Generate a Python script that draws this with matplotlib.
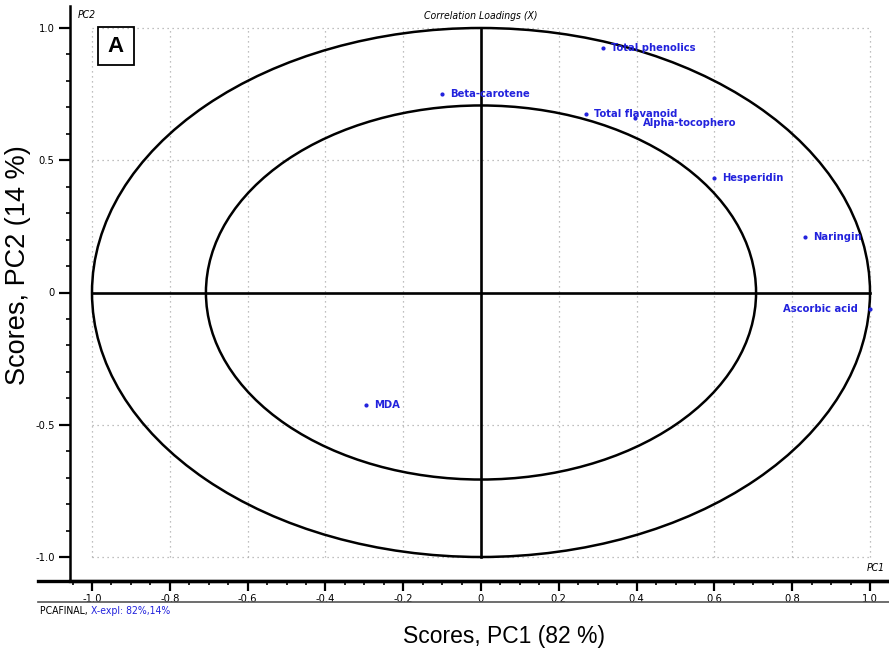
import numpy as np
import matplotlib.pyplot as plt
from matplotlib.patches import Ellipse, Rectangle
from matplotlib.lines import Line2D
from matplotlib.ticker import MultipleLocator, FixedLocator

# loadings
names = ['Total phenolics', 'Beta-carotene', 'Total flavanoid', 'Alpha-tocophero',
         'Hesperidin', 'Naringin', 'Ascorbic acid', 'MDA']
pc1 = [0.314, -0.100, 0.270, 0.395, 0.600, 0.833, 1.000, -0.296]
pc2 = [0.925, 0.751, 0.675, 0.660, 0.434, 0.208, -0.062, -0.426]
# label offsets in pixels (x, y) from each point
label_dx = [8, 8, 8, 8, 8, 8, -12, 8]
label_dy = [0, 0, 0, -5, 0, 0, 0, 0]

xticks = [-1.0, -0.8, -0.6, -0.4, -0.2, 0, 0.2, 0.4, 0.6, 0.8, 1.0]
xticklabels = ['-1.0', '-0.8', '-0.6', '-0.4', '-0.2', '0', '0.2', '0.4', '0.6', '0.8', '1.0']
yticks = [-1.0, -0.5, 0, 0.5, 1.0]
yticklabels = ['-1.0', '-0.5', '0', '0.5', '1.0']

W, H = 889, 657
sans = ['Liberation Sans', 'DejaVu Sans']
blue = '#2222dd'


def nfont(size, weight='normal', style='normal'):
    return dict(family='DejaVu Sans', stretch='condensed', fontsize=size, fontweight=weight, style=style)


fig = plt.figure(figsize=(W / 100, H / 100), dpi=100)
ax = fig.add_axes([70 / W, 1 - 581 / H, (W - 70) / W, (581 - 6) / H])

# pixel -> data mapping taken from the reference ticks
ax.set_xlim((70 - 481) / 389, (W - 481) / 389)
ax.set_ylim((292.5 - 581) / 264.5, (292.5 - 6) / 264.5)

# dotted grid, bounded to [-1, 1]
ax.vlines(xticks, -1, 1, colors='#aaaaaa', linestyles=(0, (1, 3)), linewidth=0.9, zorder=0)
ax.hlines(yticks, -1, 1, colors='#aaaaaa', linestyles=(0, (1, 3)), linewidth=0.9, zorder=0)

# correlation circles (100 % and 50 % explained variance)
for r in [1.0, np.sqrt(0.5)]:
    ax.add_patch(Ellipse((0, 0), 2 * r, 2 * r, fill=False, ec='black', lw=1.8, zorder=2))
ax.plot([-1, 1], [0, 0], color='black', lw=1.9, zorder=2)
ax.plot([0, 0], [-1, 1], color='black', lw=1.9, zorder=2)

ax.scatter(pc1, pc2, s=4, color=blue, zorder=3)
for n, x, y, dx, dy in zip(names, pc1, pc2, label_dx, label_dy):
    ax.annotate(n, (x, y), xytext=(dx, dy), textcoords='offset pixels',
                ha='left' if dx > 0 else 'right', va='center',
                color=blue, zorder=4, **nfont(8, 'bold'))

for s in ['top', 'right']:
    ax.spines[s].set_visible(False)
ax.spines['left'].set_linewidth(1.8)
ax.spines['bottom'].set_linewidth(2.4)

ax.xaxis.set_major_locator(FixedLocator(xticks))
ax.set_xticklabels(xticklabels)
ax.xaxis.set_minor_locator(MultipleLocator(0.05))
ax.yaxis.set_major_locator(FixedLocator(yticks))
ax.set_yticklabels(yticklabels)
ax.yaxis.set_minor_locator(MultipleLocator(0.1))
ax.tick_params(axis='both', which='major', direction='out', width=1.6)
ax.tick_params(axis='x', which='major', length=7, pad=2)
ax.tick_params(axis='y', which='major', length=8, pad=3)
ax.tick_params(axis='both', which='minor', direction='out', width=1.2, length=3)
for lab in ax.get_xticklabels() + ax.get_yticklabels():
    lab.set(**nfont(8))

# extended bottom rule and separator line
fig.add_artist(Line2D([38 / W, 1], [1 - 581 / H] * 2, color='black', lw=2.4))
fig.add_artist(Line2D([38 / W, 1], [1 - 602 / H] * 2, color='#555555', lw=1.2))

fig.text(78 / W, 1 - 15 / H, 'PC2', va='center', **nfont(7.5, style='italic'))
fig.text(481 / W, 1 - 16 / H, 'Correlation Loadings (X)', ha='center', va='center',
         **nfont(7.5, style='italic'))
fig.text(885 / W, 1 - 568 / H, 'PC1', ha='right', va='center', **nfont(7.5, style='italic'))

# panel letter
fig.add_artist(Rectangle((98 / W, 1 - 65 / H), 36 / W, 38 / H, fill=False, ec='black', lw=1.3,
                         transform=fig.transFigure))
fig.text(116 / W, 1 - 46 / H, 'A', fontsize=16, fontweight='bold', family=sans,
         ha='center', va='center')

t = fig.text(40 / W, 1 - 611 / H, 'PCAFINAL, ', va='center', **nfont(7.5))
ax.annotate('X-expl: 82%,14%', xy=(1, 0.5), xycoords=t, ha='left', va='center', color=blue,
            annotation_clip=False, **nfont(7.5))

fig.text(504 / W, 1 - 636 / H, 'Scores, PC1 (82 %)', fontsize=16.5, family=sans,
         ha='center', va='center')
fig.text(18 / W, 1 - 265 / H, 'Scores, PC2 (14 %)', fontsize=19.5, family=sans,
         ha='center', va='center', rotation=90)

fig.savefig('out.png', dpi=100)
